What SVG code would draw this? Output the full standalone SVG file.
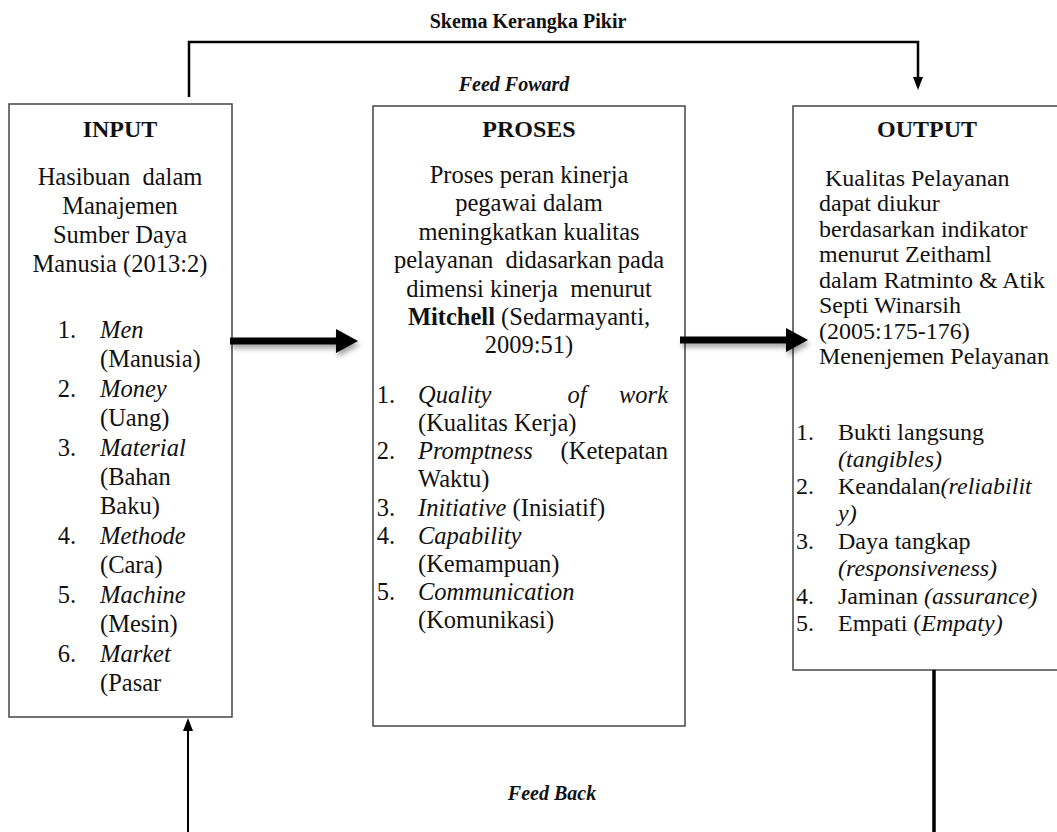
<svg xmlns="http://www.w3.org/2000/svg" width="1057" height="832" viewBox="0 0 1057 832">
<style>
.t{font-family:"Liberation Serif","Times New Roman",serif;font-size:24.5px;fill:#111}
.o{font-size:24px}
.h{font-family:"Liberation Serif","Times New Roman",serif;font-size:24px;font-weight:bold;fill:#111}
.lab{font-family:"Liberation Serif","Times New Roman",serif;font-size:20px;font-weight:bold;fill:#111}
.i{font-style:italic}
.b{font-weight:bold}
.box{fill:#fff;stroke:#444;stroke-width:1.5}
.ln{fill:none;stroke:#000}
</style>
<defs>
<filter id="sh" x="-10%" y="-50%" width="130%" height="250%">
<feDropShadow dx="2" dy="4" stdDeviation="2.5" flood-color="#000" flood-opacity="0.35"/>
</filter>
</defs>
<rect width="1057" height="832" fill="#fff"/>
<text class="lab" x="528" y="28" text-anchor="middle">Skema Kerangka Pikir</text>
<text class="lab i" x="514" y="91" text-anchor="middle">Feed Foward</text>
<text class="lab i" x="552" y="800" text-anchor="middle">Feed Back</text>

<g id="input">
<rect class="box" x="9" y="104" width="223" height="613"/>
<text class="h" x="120" y="137" text-anchor="middle">INPUT</text>
<text class="t" x="120" y="185" text-anchor="middle" xml:space="preserve">Hasibuan  dalam</text>
<text class="t" x="120" y="214" text-anchor="middle">Manajemen</text>
<text class="t" x="120" y="243" text-anchor="middle">Sumber Daya</text>
<text class="t" x="120" y="272" text-anchor="middle">Manusia (2013:2)</text>
<text class="t" x="76" y="338" text-anchor="end">1.</text>
<text class="t i" x="100" y="338">Men</text>
<text class="t" x="100" y="367">(Manusia)</text>
<text class="t" x="76" y="397" text-anchor="end">2.</text>
<text class="t i" x="100" y="397">Money</text>
<text class="t" x="100" y="426">(Uang)</text>
<text class="t" x="76" y="456" text-anchor="end">3.</text>
<text class="t i" x="100" y="456">Material</text>
<text class="t" x="100" y="485">(Bahan</text>
<text class="t" x="100" y="514">Baku)</text>
<text class="t" x="76" y="544" text-anchor="end">4.</text>
<text class="t i" x="100" y="544">Methode</text>
<text class="t" x="100" y="573">(Cara)</text>
<text class="t" x="76" y="603" text-anchor="end">5.</text>
<text class="t i" x="100" y="603">Machine</text>
<text class="t" x="100" y="632">(Mesin)</text>
<text class="t" x="76" y="662" text-anchor="end">6.</text>
<text class="t i" x="100" y="662">Market</text>
<text class="t" x="100" y="691">(Pasar</text>
</g>

<g id="proses">
<rect class="box" x="373" y="106" width="312" height="620"/>
<text class="h" x="529" y="137" text-anchor="middle">PROSES</text>
<text class="t" x="529" y="183" text-anchor="middle">Proses peran kinerja</text>
<text class="t" x="529" y="211" text-anchor="middle">pegawai dalam</text>
<text class="t" x="529" y="240" text-anchor="middle">meningkatkan kualitas</text>
<text class="t" x="529" y="268" text-anchor="middle" xml:space="preserve">pelayanan  didasarkan pada</text>
<text class="t" x="529" y="297" text-anchor="middle" xml:space="preserve">dimensi kinerja  menurut</text>
<text class="t" x="529" y="325" text-anchor="middle"><tspan class="b">Mitchell</tspan> (Sedarmayanti,</text>
<text class="t" x="529" y="353" text-anchor="middle">2009:51)</text>
<text class="t" x="395" y="403" text-anchor="end">1.</text>
<text class="t i" x="418" y="403">Quality</text>
<text class="t i" x="577" y="403" text-anchor="middle">of</text>
<text class="t i" x="668" y="403" text-anchor="end">work</text>
<text class="t" x="418" y="431">(Kualitas Kerja)</text>
<text class="t" x="395" y="459" text-anchor="end">2.</text>
<text class="t i" x="418" y="459">Promptness</text>
<text class="t" x="668" y="459" text-anchor="end">(Ketepatan</text>
<text class="t" x="418" y="487">Waktu)</text>
<text class="t" x="395" y="516" text-anchor="end">3.</text>
<text class="t" x="418" y="516"><tspan class="i">Initiative</tspan> (Inisiatif)</text>
<text class="t" x="395" y="544" text-anchor="end">4.</text>
<text class="t i" x="418" y="544">Capability</text>
<text class="t" x="418" y="572">(Kemampuan)</text>
<text class="t" x="395" y="600" text-anchor="end">5.</text>
<text class="t i" x="418" y="600">Communication</text>
<text class="t" x="418" y="628">(Komunikasi)</text>
</g>

<g id="output">
<rect class="box" x="793" y="106" width="290" height="564"/>
<text class="h" x="927" y="137" text-anchor="middle">OUTPUT</text>
<text class="t o" x="819" y="186" xml:space="preserve"> Kualitas Pelayanan</text>
<text class="t o" x="819" y="211">dapat diukur</text>
<text class="t o" x="819" y="237">berdasarkan indikator</text>
<text class="t o" x="819" y="262">menurut Zeithaml</text>
<text class="t o" x="819" y="288">dalam Ratminto &amp; Atik</text>
<text class="t o" x="819" y="313">Septi Winarsih</text>
<text class="t o" x="819" y="339">(2005:175-176)</text>
<text class="t o" x="819" y="364">Menenjemen Pelayanan</text>
<text class="t o" x="814" y="440" text-anchor="end">1.</text>
<text class="t o" x="838" y="440">Bukti langsung</text>
<text class="t o i" x="838" y="467">(tangibles)</text>
<text class="t o" x="814" y="494" text-anchor="end">2.</text>
<text class="t o" x="838" y="494">Keandalan<tspan class="i">(reliabilit</tspan></text>
<text class="t o i" x="838" y="521">y)</text>
<text class="t o" x="814" y="549" text-anchor="end">3.</text>
<text class="t o" x="838" y="549">Daya tangkap</text>
<text class="t o i" x="838" y="576">(responsiveness)</text>
<text class="t o" x="814" y="604" text-anchor="end">4.</text>
<text class="t o" x="838" y="604">Jaminan <tspan class="i">(assurance)</tspan></text>
<text class="t o" x="814" y="631" text-anchor="end">5.</text>
<text class="t o" x="838" y="631">Empati (<tspan class="i">Empaty)</tspan></text>
</g>

<g id="connectors">
<path class="ln" stroke-width="2.5" d="M189,97 V42 H918 V79"/>
<polygon points="913,77 923,77 918,90" fill="#000"/>
<path class="ln" stroke-width="2" d="M188,832 V729"/>
<polygon points="183,731 193,731 188,718" fill="#000"/>
<path class="ln" stroke-width="3.5" d="M934,670 V832"/>
<g filter="url(#sh)">
<polygon points="230,337.5 336,337.5 336,329 358,341 336,353 336,344.5 230,344.5" fill="#000"/>
<polygon points="680,336.5 786,336.5 786,328 808,340 786,352 786,343.5 680,343.5" fill="#000"/>
</g>
</g>
</svg>
